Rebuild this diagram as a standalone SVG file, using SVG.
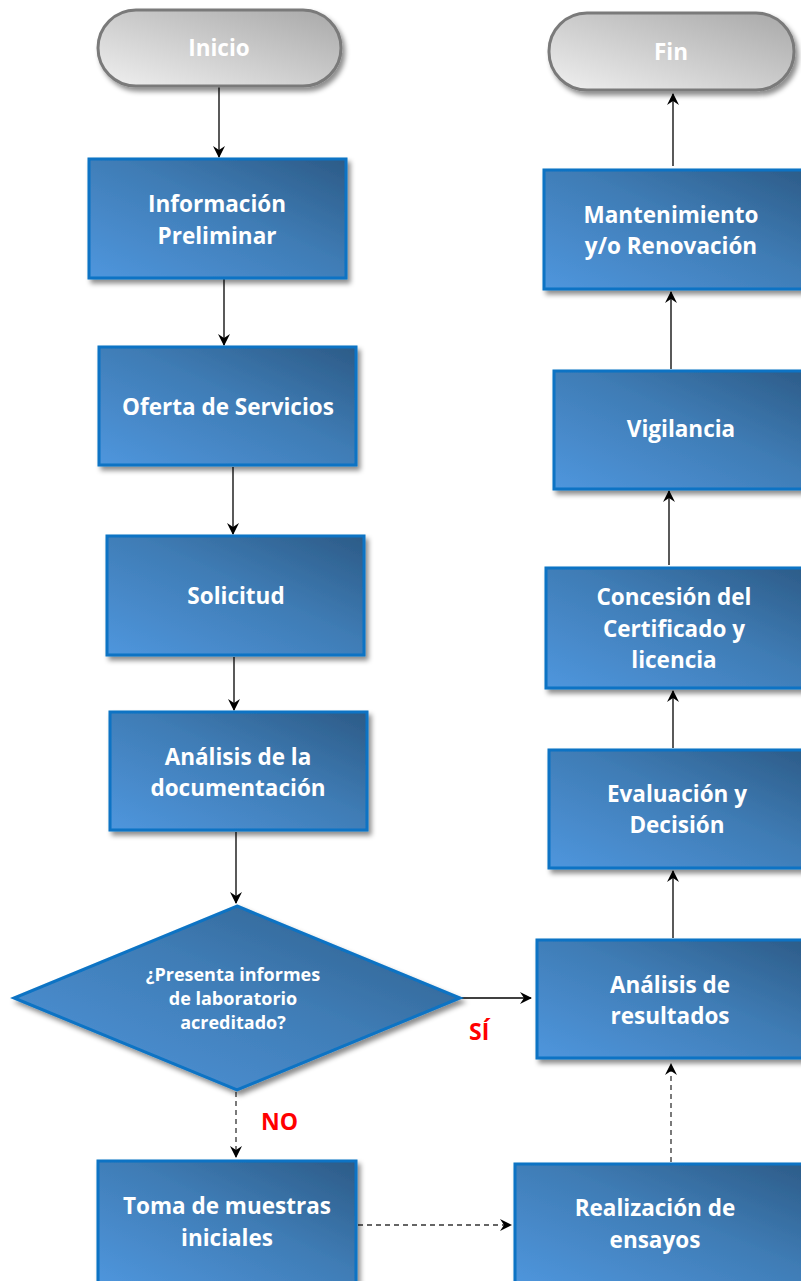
<svg xmlns="http://www.w3.org/2000/svg" width="801" height="1281" viewBox="0 0 801 1281">
<style>
.box{fill:url(#gB);stroke:#0a73c4;stroke-width:3;filter:url(#sh)}
.term{fill:url(#gG);stroke:#7a7a7a;stroke-width:3;filter:url(#sh)}
.t{font-family:"Open Sans",Lato,"Liberation Sans",sans-serif;font-weight:700;font-size:22.5px;fill:#fff;text-anchor:middle}
.ts{font-size:18px}
.lbl{font-family:"Open Sans",Lato,"Liberation Sans",sans-serif;font-weight:700;font-size:23px;fill:#ff0000}
.c{stroke:#000;stroke-width:1.3;fill:none;marker-end:url(#ah)}
.d{stroke-dasharray:5,4;stroke:#333}
</style>
<defs>
<linearGradient id="gB" x1="0" y1="1" x2="1" y2="0">
<stop offset="0" stop-color="#4f96dd"/>
<stop offset="0.55" stop-color="#3f7cb5"/>
<stop offset="1" stop-color="#2c5b87"/>
</linearGradient>
<linearGradient id="gG" x1="0" y1="1" x2="1" y2="0">
<stop offset="0" stop-color="#f0f0f0"/>
<stop offset="1" stop-color="#a8a8a8"/>
</linearGradient>
<filter id="sh" x="-10%" y="-10%" width="125%" height="130%">
<feDropShadow dx="3" dy="4" stdDeviation="2.5" flood-color="#000" flood-opacity="0.45"/>
</filter>
<marker id="ah" viewBox="0 0 12 12" refX="11" refY="6" markerWidth="12" markerHeight="12" markerUnits="userSpaceOnUse" orient="auto">
<path d="M0,0 L12,6 L0,12 L4,6 Z" fill="#000"/>
</marker>
</defs>

<g id="connectors">
<line class="c" x1="219" y1="87" x2="219" y2="157"/>
<line class="c" x1="224" y1="279" x2="224" y2="345"/>
<line class="c" x1="233" y1="467" x2="233" y2="534"/>
<line class="c" x1="234" y1="657" x2="234" y2="710"/>
<line class="c" x1="236" y1="832" x2="236" y2="903"/>
<line class="c" x1="461" y1="998" x2="531" y2="998"/>
<line class="c d" x1="236" y1="1092" x2="236" y2="1157"/>
<line class="c d" x1="358" y1="1225" x2="511" y2="1225"/>
<line class="c d" x1="671" y1="1162" x2="671" y2="1064"/>
<line class="c" x1="673" y1="938" x2="673" y2="871"/>
<line class="c" x1="673" y1="748" x2="673" y2="691"/>
<line class="c" x1="669" y1="565" x2="669" y2="491"/>
<line class="c" x1="671" y1="369" x2="671" y2="292"/>
<line class="c" x1="673" y1="166" x2="673" y2="94"/>
</g>

<g id="inicio">
<rect class="term" x="98" y="10" width="243" height="76" rx="38"/>
<text class="t" x="219" y="56">Inicio</text>
</g>
<g id="fin">
<rect class="term" x="549" y="13" width="245" height="77" rx="38"/>
<text class="t" x="671" y="60">Fin</text>
</g>

<g id="informacion">
<rect class="box" x="89" y="159" width="257" height="119"/>
<text class="t" x="217" y="212">Información</text>
<text class="t" x="217" y="244">Preliminar</text>
</g>
<g id="oferta">
<rect class="box" x="99" y="347" width="257" height="118"/>
<text class="t" x="228" y="415">Oferta de Servicios</text>
</g>
<g id="solicitud">
<rect class="box" x="107" y="536" width="257" height="119"/>
<text class="t" x="236" y="604">Solicitud</text>
</g>
<g id="analisis-doc">
<rect class="box" x="110" y="712" width="257" height="118"/>
<text class="t" x="238" y="765">Análisis de la</text>
<text class="t" x="238" y="796">documentación</text>
</g>
<g id="decision">
<polygon class="box" points="237,906 460,998 237,1090 14,998"/>
<text class="t ts" x="233" y="981">¿Presenta informes</text>
<text class="t ts" x="233" y="1005">de laboratorio</text>
<text class="t ts" x="233" y="1029">acreditado?</text>
</g>
<g id="toma">
<rect class="box" x="98" y="1161" width="258" height="125"/>
<text class="t" x="227" y="1214">Toma de muestras</text>
<text class="t" x="227" y="1246">iniciales</text>
</g>
<g id="realizacion">
<rect class="box" x="515" y="1164" width="298" height="122"/>
<text class="t" x="655" y="1216">Realización de</text>
<text class="t" x="655" y="1248">ensayos</text>
</g>
<g id="analisis-res">
<rect class="box" x="537" y="940" width="275" height="118"/>
<text class="t" x="670" y="993">Análisis de</text>
<text class="t" x="670" y="1024">resultados</text>
</g>
<g id="evaluacion">
<rect class="box" x="549" y="750" width="263" height="118"/>
<text class="t" x="677" y="802">Evaluación y</text>
<text class="t" x="677" y="833">Decisión</text>
</g>
<g id="concesion">
<rect class="box" x="546" y="568" width="266" height="120"/>
<text class="t" x="674" y="605">Concesión del</text>
<text class="t" x="674" y="637">Certificado y</text>
<text class="t" x="674" y="668">licencia</text>
</g>
<g id="vigilancia">
<rect class="box" x="554" y="371" width="258" height="118"/>
<text class="t" x="681" y="437">Vigilancia</text>
</g>
<g id="mantenimiento">
<rect class="box" x="544" y="170" width="268" height="119"/>
<text class="t" x="671" y="223">Mantenimiento</text>
<text class="t" x="671" y="254">y/o Renovación</text>
</g>

<text class="lbl" x="469" y="1040">SÍ</text>
<text class="lbl" x="261" y="1130">NO</text>
</svg>
